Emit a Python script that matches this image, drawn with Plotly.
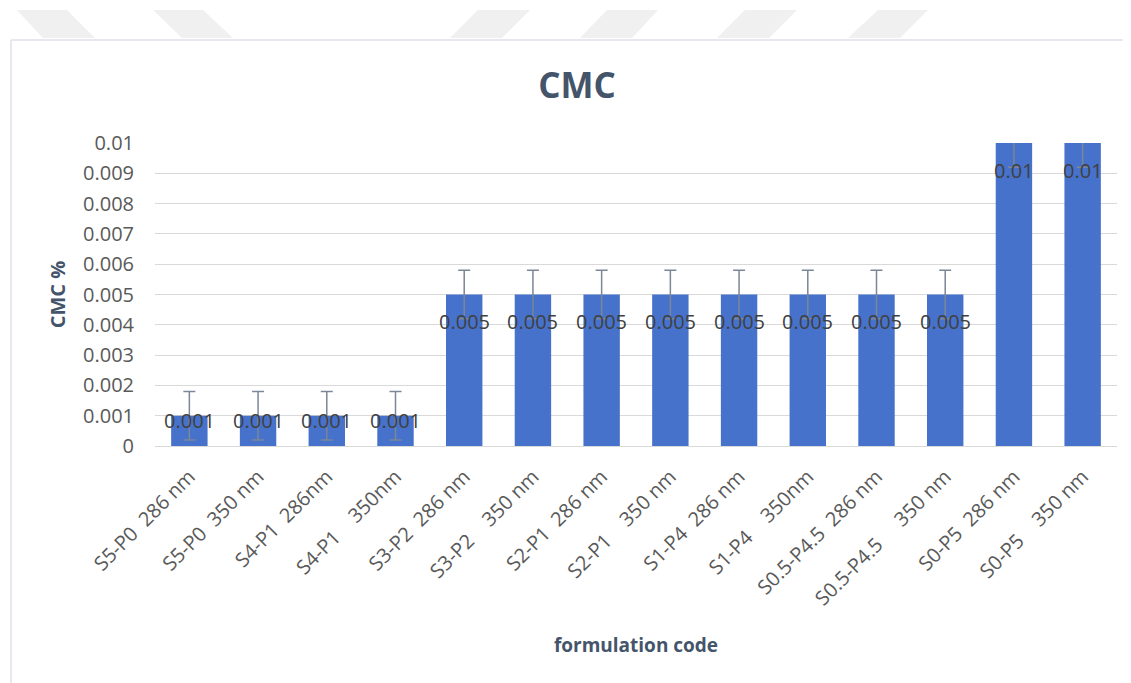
import plotly.graph_objects as go

# formulation codes (x categories) - double spaces kept as non-breaking
codes = ["S5-P0  286 nm", "S5-P0  350 nm", "S4-P1  286nm", "S4-P1    350nm",
         "S3-P2  286 nm", "S3-P2    350 nm", "S2-P1  286 nm", "S2-P1    350 nm",
         "S1-P4  286 nm", "S1-P4    350nm", "S0.5-P4.5  286 nm", "S0.5-P4.5     350 nm",
         "S0-P5  286 nm", "S0-P5    350 nm"]
cmc = [0.001, 0.001, 0.001, 0.001, 0.005, 0.005, 0.005, 0.005,
       0.005, 0.005, 0.005, 0.005, 0.01, 0.01]
err = [0.0008] * 14
labels = ["0.001"] * 4 + ["0.005"] * 8 + ["0.01"] * 2

ytick_vals = [i / 1000 for i in range(11)]
ytick_text = ["0", "0.001", "0.002", "0.003", "0.004", "0.005",
              "0.006", "0.007", "0.008", "0.009", "0.01"]

W, H = 1131, 683
OFF = 8  # page body margin
ML, MR, MT, MB = 147, 22, 135, 245
PW, PH = W - ML - MR, H - MT - MB
YMAX = 0.01

FONT = "Open Sans"
GREY = "#595959"
SLATE = "#44546A"


def px(x, y):
    # screen pixel position -> paper coordinates (frame decoration only)
    return (x - OFF - ML) / PW, (H - MB - (y - OFF)) / PH


xcat = [c.replace(" ", "\u00a0") for c in codes]

fig = go.Figure()
fig.add_trace(go.Bar(
    x=xcat, y=cmc,
    marker=dict(color="#4672CC", line=dict(width=0)),
    error_y=dict(type="data", array=err, visible=True,
                 color="#7b8698", thickness=1.5, width=6),
    hoverinfo="x+y",
))

# data labels near the top of each bar (excel "inside end" style)
for xc, v, t in zip(xcat, cmc, labels):
    hpx = v / YMAX * PH
    shift = -min(27, hpx - 26)
    fig.add_annotation(x=xc, y=v, text=t, showarrow=False, yshift=shift,
                       font=dict(family=FONT, size=20, color="#404040"))

# chart frame + faint watermark stripes at the top
shapes = []
x0, y0 = px(11, 40)
x1, y1 = px(1150, 700)
shapes.append(dict(type="line", xref="paper", yref="paper", x0=x0, y0=y0, x1=x1, y1=y0,
                   line=dict(color="#DCE1E8", width=1.5)))
shapes.append(dict(type="line", xref="paper", yref="paper", x0=x0, y0=y0, x1=x0, y1=y1,
                   line=dict(color="#DCE1E8", width=1.5)))
# (top-left, top-right, bottom-left, bottom-right) x positions
stripes = [(17, 67, 43, 95), (153, 203, 182, 233),
           (478, 530, 450, 502), (607, 658, 580, 632),
           (745, 797, 717, 769), (878, 928, 848, 900)]
for a, b, c, d in stripes:
    p1, p2, p3, p4 = px(a, 10), px(b, 10), px(d, 38), px(c, 38)
    path = "M %f %f L %f %f L %f %f L %f %f Z" % (p1[0], p1[1], p2[0], p2[1], p3[0], p3[1], p4[0], p4[1])
    shapes.append(dict(type="path", xref="paper", yref="paper", path=path,
                       fillcolor="#F0F0F0", line=dict(width=0), layer="below"))

fig.update_layout(
    width=W, height=H,
    margin=dict(l=ML, r=MR, t=MT, b=MB, autoexpand=False),
    paper_bgcolor="white", plot_bgcolor="white",
    font=dict(family=FONT, color=GREY),
    title=dict(text="<b>CMC</b>", x=(577 - OFF) / W, xanchor="center",
               y=1 - (86 - OFF) / H, yanchor="middle",
               font=dict(family=FONT, size=35, color=SLATE)),
    bargap=0.47,
    showlegend=False,
    shapes=shapes,
)
fig.update_xaxes(
    tickangle=-45, tickfont=dict(family=FONT, size=20, color=GREY),
    showline=True, linecolor="#D9D9D9", linewidth=1, ticks="",
    ticklabelstandoff=10,
    title=dict(text="<b>formulation code</b>", standoff=28,
               font=dict(family=FONT, size=19, color=SLATE)),
    automargin=False,
)
fig.update_yaxes(
    range=[0, YMAX], tickvals=ytick_vals, ticktext=ytick_text,
    tickfont=dict(family=FONT, size=20, color=GREY),
    showgrid=True, gridcolor="#D9D9D9", gridwidth=1, zeroline=False,
    ticks="", ticklabelstandoff=20,
    title=dict(text="<b>CMC %</b>", standoff=12,
               font=dict(family=FONT, size=20, color=SLATE)),
    automargin=False,
)

fig.write_html("out.html")
